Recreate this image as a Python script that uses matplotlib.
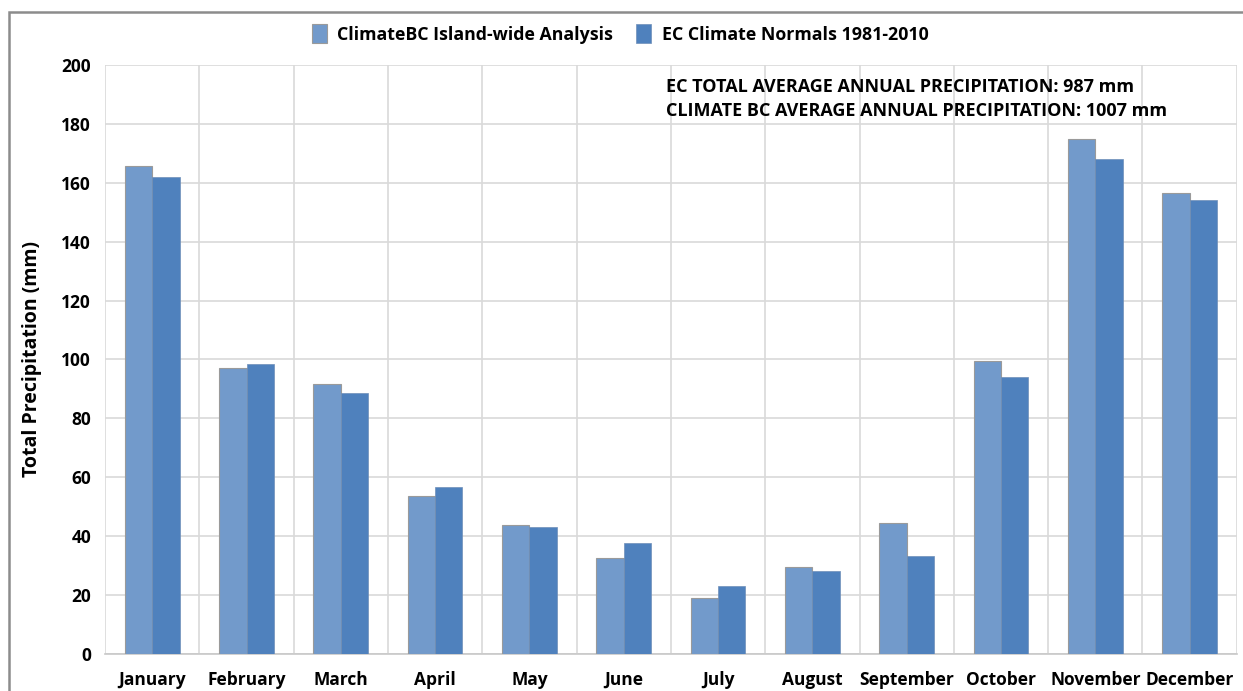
import numpy as np
import matplotlib.pyplot as plt
from matplotlib.patches import Rectangle

months = ['January', 'February', 'March', 'April', 'May', 'June', 'July',
          'August', 'September', 'October', 'November', 'December']
climatebc = [165.7, 97.1, 91.7, 53.7, 43.8, 32.6, 19.0, 29.5, 44.5, 99.5, 174.9, 156.5]
ec_normals = [162.0, 98.5, 88.6, 56.7, 43.1, 37.7, 23.1, 28.2, 33.3, 94.0, 168.0, 154.0]
yticks = list(range(0, 201, 20))

plt.rcParams['font.family'] = ['Open Sans', 'DejaVu Sans']
plt.rcParams['font.weight'] = 'bold'

fig = plt.figure(figsize=(12.43, 6.91), dpi=100)
ax = fig.add_axes([0.0845, 0.0535, 0.9105, 0.8525])

x = np.arange(len(months))
w = 0.29
ax.bar(x - w / 2, climatebc, w, color='#729ACB', edgecolor='#9a9a9a', linewidth=0.8,
       label='ClimateBC Island-wide Analysis', zorder=3)
ax.bar(x + w / 2, ec_normals, w, color='#4F81BD', edgecolor='#6f8fb8', linewidth=0.5,
       label='EC Climate Normals 1981-2010', zorder=3)

ax.set_xlim(-0.5, len(months) - 0.5)
ax.set_ylim(0, 200)
ax.set_yticks(yticks)
ax.set_xticks(x)
ax.set_xticklabels(months, fontsize=12.5, fontweight='bold')
ax.tick_params(axis='y', labelsize=12.5, length=0, pad=10)
ax.tick_params(axis='x', length=0, pad=12)
for lab in ax.get_yticklabels():
    lab.set_fontweight('bold')

# grid: horizontal at ticks, vertical at category boundaries
ax.yaxis.grid(True, color='#d9d9d9', linewidth=1.2, zorder=0)
for b in np.arange(-0.5, len(months) + 0.5, 1):
    ax.axvline(b, color='#d9d9d9', linewidth=1.2, zorder=0)
for s in ['top', 'right', 'left']:
    ax.spines[s].set_visible(False)
ax.spines['bottom'].set_color('#c8c8c8')
ax.spines['bottom'].set_linewidth(1.2)

ax.set_ylabel('Total Precipitation (mm)', fontsize=14, fontweight='bold', labelpad=14)

ax.text(0.496, 0.962, 'EC TOTAL AVERAGE ANNUAL PRECIPITATION: 987 mm',
        transform=ax.transAxes, fontsize=13, fontweight='bold', va='center')
ax.text(0.496, 0.922, 'CLIMATE BC AVERAGE ANNUAL PRECIPITATION: 1007 mm',
        transform=ax.transAxes, fontsize=13, fontweight='bold', va='center')

fig.legend(loc='center', bbox_to_anchor=(0.499, 0.951), ncol=2, frameon=False,
           prop={'size': 12.8, 'weight': 'bold'}, handlelength=0.85, handleheight=1.3,
           columnspacing=1.3, handletextpad=0.6)

# outer chart border (top and left visible, runs off on right/bottom)
fig.patches.append(Rectangle((0.0072, -0.05), 1.05, 1.0326, transform=fig.transFigure,
                             fill=False, edgecolor='#8c8c8c', linewidth=1.8))

fig.savefig('out.png', dpi=100)
